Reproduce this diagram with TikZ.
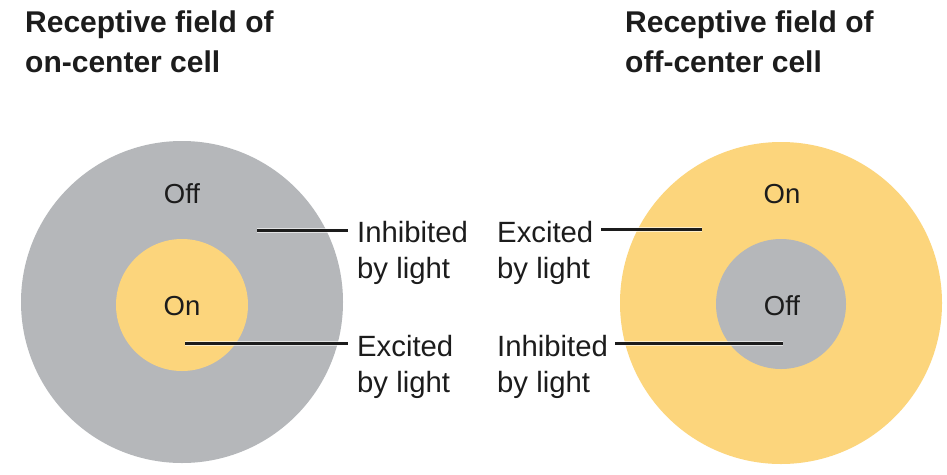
\documentclass[tikz,border=0pt]{standalone}
\usepackage{fontspec}
\setmainfont{Liberation Sans}
\definecolor{surround}{RGB}{181,183,186}
\definecolor{centre}{RGB}{252,213,124}
\definecolor{ink}{RGB}{28,28,28}
\begin{document}
\begin{tikzpicture}[x=1pt,y=-1pt,
  title/.style={font=\fontsize{30}{40}\selectfont\bfseries, align=left, anchor=base west, inner sep=0, text=ink},
  lab/.style={font=\fontsize{29.3}{36}\selectfont, align=left, anchor=base west, inner sep=0, text=ink},
  zone/.style={font=\fontsize{27.5}{34}\selectfont, inner sep=0, anchor=base, text=ink},
  disc/.style={circle, draw=none, inner sep=0, minimum size=#1},
  lead/.style={draw=ink, line width=3pt,
    preaction={draw=white, draw opacity=0.6, line width=5pt}}]
\fill[white] (0,0) rectangle (947,474);
\useasboundingbox (0,0) rectangle (947,474);

% titles (anchored at the baseline of their last line)
\node[title] (tleft)  at (25,72)  {Receptive field of\\on-center cell};
\node[title] (tright) at (625,72) {Receptive field of\\off-center cell};

% on-center receptive field
\node[disc=322pt, fill=surround] (onsurr) at (182,302) {};
\node[disc=132pt, fill=centre]   (oncent) at (182,305) {};
\node[zone] (onoff) at (182,203) {Off};
\node[zone] (onon)  at (182,315) {On};

% off-center receptive field
\node[disc=322pt, fill=centre]   (offsurr) at (781,303) {};
\node[disc=130pt, fill=surround] (offcent) at (781,304) {};
\node[zone] (offon)  at (782,203) {On};
\node[zone] (offoff) at (782,315) {Off};

% labels (anchored at the baseline of their last line)
\node[lab] (inhl) at (357,278) {Inhibited\\by light};
\node[lab] (excl) at (357,392) {Excited\\by light};
\node[lab] (excr) at (497,278) {Excited\\by light};
\node[lab] (inhr) at (497,392) {Inhibited\\by light};

% inner ends of the leader lines
\coordinate (a1) at (257,230);
\coordinate (a2) at (185,343);
\coordinate (b1) at (702,229);
\coordinate (b2) at (783,343);

\draw[lead, shorten >=9pt] (a1) -- (a1 -| inhl.west);
\draw[lead, shorten >=9pt] (a2) -- (a2 -| excl.west);
\draw[lead, shorten <=8pt] (excr.east |- b1) -- (b1);
\draw[lead, shorten <=7pt] (inhr.east |- b2) -- (b2);
\end{tikzpicture}
\end{document}
